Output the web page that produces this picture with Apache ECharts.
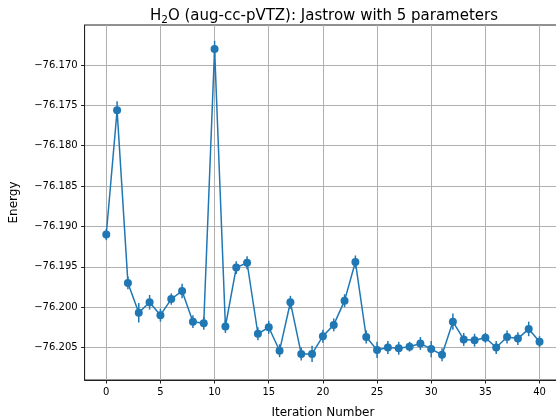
<!DOCTYPE html>
<html>
<head>
<meta charset="utf-8">
<script src="https://cdn.jsdelivr.net/npm/echarts@6/dist/echarts.min.js"></script>
<style>
html,body{margin:0;padding:0;background:#fff;}
#c{width:556px;height:420px;}
</style>
</head>
<body>
<div id="c"></div>
<script>
const iterations = [0,1,2,3,4,5,6,7,8,9,10,11,12,13,14,15,16,17,18,19,20,21,22,23,24,25,26,27,28,29,30,31,32,33,34,35,36,37,38,39,40];
const energies = [-76.1910,-76.1756,-76.1970,-76.2007,-76.1994,-76.2010,-76.1990,-76.1980,-76.2018,-76.2020,
  -76.1680,-76.2024,-76.1951,-76.1945,-76.2033,-76.2025,-76.2054,-76.1994,-76.2058,-76.2058,
  -76.2036,-76.2022,-76.1992,-76.1944,-76.2037,-76.2053,-76.2050,-76.2051,-76.2049,-76.2045,
  -76.2052,-76.2059,-76.2018,-76.2040,-76.2041,-76.2038,-76.2050,-76.2037,-76.2039,-76.2027,-76.2043];
const errors = [0.0007,0.0011,0.0008,0.0012,0.0009,0.0008,0.0007,0.0009,0.0008,0.0008,
  0.0010,0.0008,0.0008,0.0008,0.0008,0.0008,0.0008,0.0008,0.0008,0.0010,
  0.0008,0.0008,0.0008,0.0008,0.0008,0.0010,0.0008,0.0008,0.0006,0.0008,
  0.0010,0.0008,0.0010,0.0008,0.0008,0.0006,0.0008,0.0008,0.0008,0.0009,0.0007];
const xTicks = [0,5,10,15,20,25,30,35,40];
const yTicks = [-76.205,-76.200,-76.195,-76.190,-76.185,-76.180,-76.175,-76.170];
const titleText = 'H|2|O (aug-cc-pVTZ): Jastrow with 5 parameters';
const xLabel = 'Iteration Number';
const yLabel = 'Energy';

const color = '#1f77b4';
const font = 'DejaVu Sans';
const parts = titleText.split('|');

const lineData = iterations.map((x, i) => [x, energies[i]]);
const errData = iterations.map((x, i) => [x, energies[i] - errors[i], energies[i] + errors[i]]);

const chart = echarts.init(document.getElementById('c'), null, {renderer: 'canvas'});
chart.setOption({
  animation: false,
  backgroundColor: '#fff',
  title: {
    text: '{a|' + parts[0] + '}{s|' + parts[1] + '}{a|' + parts[2] + '}',
    left: 319, top: 2, textAlign: 'center',
    textStyle: {
      fontWeight: 'normal',
      rich: {
        a: {fontFamily: font, fontSize: 15, fontWeight: 'normal', color: '#000', lineHeight: 19},
        s: {fontFamily: font, fontSize: 10.5, fontWeight: 'normal', color: '#000', padding: [7, 0, 0, 0], lineHeight: 19}
      }
    }
  },
  grid: {left: 84.6, top: 25, width: 476.6, height: 355, show: true, borderColor: '#222', borderWidth: 1, outerBoundsMode: 'none'},
  xAxis: {
    type: 'value', min: -2, max: 42,
    name: xLabel, nameLocation: 'middle', nameGap: 27,
    nameTextStyle: {fontFamily: font, fontSize: 12, color: '#000'},
    axisLine: {show: true, onZero: false, lineStyle: {color: '#222', width: 1}},
    axisTick: {show: true, inside: false, length: 3.5, customValues: xTicks, lineStyle: {color: '#222'}},
    axisLabel: {customValues: xTicks, fontFamily: font, fontSize: 10, color: '#000', margin: 7},
    splitLine: {show: true, lineStyle: {color: '#b0b0b0', width: 1}}
  },
  yAxis: {
    type: 'value', min: -76.20903, max: -76.16504,
    name: yLabel, nameLocation: 'middle', nameGap: 65, nameRotate: 90,
    nameTextStyle: {fontFamily: font, fontSize: 12, color: '#000'},
    axisLine: {show: true, onZero: false, lineStyle: {color: '#222', width: 1}},
    axisTick: {show: true, inside: false, length: 3.5, customValues: yTicks, lineStyle: {color: '#222'}},
    axisLabel: {customValues: yTicks, fontFamily: font, fontSize: 10, color: '#000', margin: 7,
      formatter: v => '\u2212' + Math.abs(v).toFixed(3)},
    splitLine: {show: true, lineStyle: {color: '#b0b0b0', width: 1}}
  },
  series: [
    {
      type: 'custom',
      data: errData,
      encode: {x: 0, y: [1, 2]},
      renderItem: function (params, api) {
        const x = api.value(0);
        const lo = api.coord([x, api.value(1)]);
        const hi = api.coord([x, api.value(2)]);
        return {type: 'line', shape: {x1: lo[0], y1: lo[1], x2: hi[0], y2: hi[1]},
          style: {stroke: color, lineWidth: 1.5}};
      },
      z: 2
    },
    {
      type: 'line',
      data: lineData,
      symbol: 'circle', symbolSize: 8,
      showAllSymbol: true,
      lineStyle: {color: color, width: 1.5},
      itemStyle: {color: color},
      z: 3
    }
  ]
});
</script>
</body>
</html>
